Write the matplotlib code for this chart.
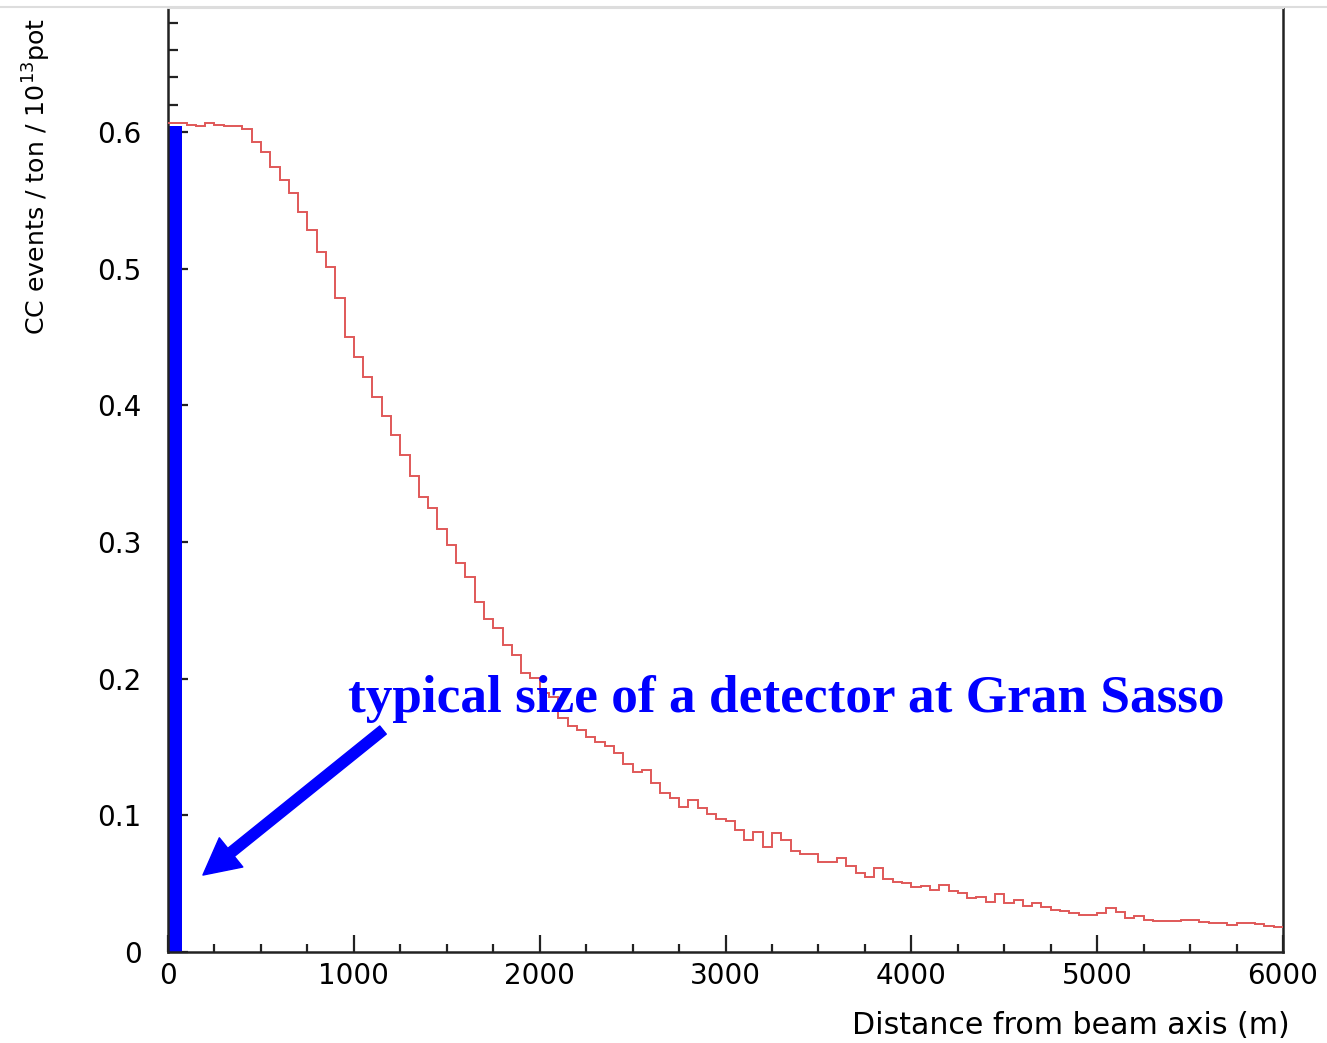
import matplotlib
matplotlib.use("Agg")
import matplotlib.pyplot as plt
import numpy as np
from matplotlib.lines import Line2D

# CC events per ton per 1e13 pot, 50 m bins from 0 to 6000 m
bin_edges = np.arange(0, 6001, 50)
events = [
    0.6068, 0.6063, 0.6053, 0.6041, 0.6068, 0.6049, 0.6041, 0.6040, 0.6020, 0.5924,
    0.5851, 0.5742, 0.5649, 0.5556, 0.5417, 0.5283, 0.5124, 0.5014, 0.4783, 0.4502,
    0.4351, 0.4210, 0.4063, 0.3924, 0.3783, 0.3637, 0.3483, 0.3332, 0.3246, 0.3093,
    0.2978, 0.2849, 0.2746, 0.2563, 0.2434, 0.2368, 0.2246, 0.2173, 0.2039, 0.2003,
    0.1893, 0.1868, 0.1710, 0.1650, 0.1625, 0.1576, 0.1540, 0.1510, 0.1454, 0.1375,
    0.1315, 0.1335, 0.1240, 0.1161, 0.1130, 0.1063, 0.1112, 0.1057, 0.1010, 0.0970,
    0.0960, 0.0893, 0.0820, 0.0880, 0.0766, 0.0873, 0.0820, 0.0739, 0.0717, 0.0717,
    0.0661, 0.0661, 0.0686, 0.0629, 0.0580, 0.0546, 0.0612, 0.0532, 0.0515, 0.0502,
    0.0473, 0.0480, 0.0457, 0.0490, 0.0449, 0.0434, 0.0393, 0.0400, 0.0368, 0.0424,
    0.0356, 0.0380, 0.0337, 0.0356, 0.0332, 0.0307, 0.0302, 0.0288, 0.0271, 0.0271,
    0.0288, 0.0320, 0.0295, 0.0246, 0.0263, 0.0234, 0.0229, 0.0229, 0.0227, 0.0234,
    0.0234, 0.0222, 0.0215, 0.0210, 0.0198, 0.0215, 0.0210, 0.0203, 0.0190, 0.0181,
]

# detector size marker
detector_width = 75
detector_height = 0.604

note_text = "typical size of a detector at Gran Sasso"
note_xy = (969, 0.1756)
arrow_tail = (1157, 0.1624)
arrow_tip = (188, 0.0563)

plt.rcParams['font.family'] = ['DejaVu Sans']

W, H = 1327, 1043
fig = plt.figure(figsize=(W / 100, H / 100), dpi=100)
ax = fig.add_axes([168 / W, 1 - 952 / H, (1283 - 168) / W, (952 - 8) / H])

ax.stairs(events, bin_edges, baseline=None, color="#e05858", linewidth=1.4, zorder=3)
ax.bar(0, detector_height, width=detector_width, align="edge", color="#0000ff", zorder=2)

ax.set_xlim(0, 6000)
ax.set_ylim(0, 0.6907)

ax.set_xticks(np.arange(0, 6001, 1000))
ax.set_xticks(np.arange(0, 6001, 250), minor=True)
ax.set_yticks(np.arange(0, 0.61, 0.1))
ax.set_yticks(np.arange(0, 0.69, 0.02), minor=True)
ax.set_xticklabels([str(v) for v in range(0, 6001, 1000)])
ax.set_yticklabels(["0", "0.1", "0.2", "0.3", "0.4", "0.5", "0.6"])

ax.tick_params(axis="both", which="both", direction="in", width=1.6, color="#222222")
ax.tick_params(axis="x", which="major", length=12, pad=7, labelsize=20)
ax.tick_params(axis="x", which="minor", length=6)
ax.tick_params(axis="y", which="major", length=14.5, pad=19, labelsize=20)
ax.tick_params(axis="y", which="minor", length=7)

for side in ["left", "bottom", "right"]:
    ax.spines[side].set_linewidth(1.8)
    ax.spines[side].set_color("#222222")
ax.spines["top"].set_color("#dddddd")
ax.spines["top"].set_linewidth(1.5)
fig.add_artist(Line2D([0, 1], [1 - 7 / H, 1 - 7 / H], color="#dddddd", linewidth=1.5))

fig.text(1290 / W, 1 - 1025 / H, "Distance from beam axis (m)", ha="right", va="center",
         fontsize=21.6)
fig.text(37 / W, 1 - 176 / H, r"CC events / ton / 10$^{13}$pot", rotation=90,
         ha="center", va="center", fontsize=18.2)

ax.text(note_xy[0], note_xy[1], note_text, color="#0000ff", fontsize=38.3,
        fontweight="bold", family=["Liberation Serif", "DejaVu Serif"],
        ha="left", va="baseline", zorder=5)
ax.annotate("", xy=arrow_tip, xytext=arrow_tail,
            arrowprops=dict(arrowstyle="simple,head_width=2.7,head_length=2.6,tail_width=0.75",
                            mutation_scale=10, color="#0000ff", shrinkA=0, shrinkB=0),
            zorder=5)

fig.savefig("out.png", dpi=100)
